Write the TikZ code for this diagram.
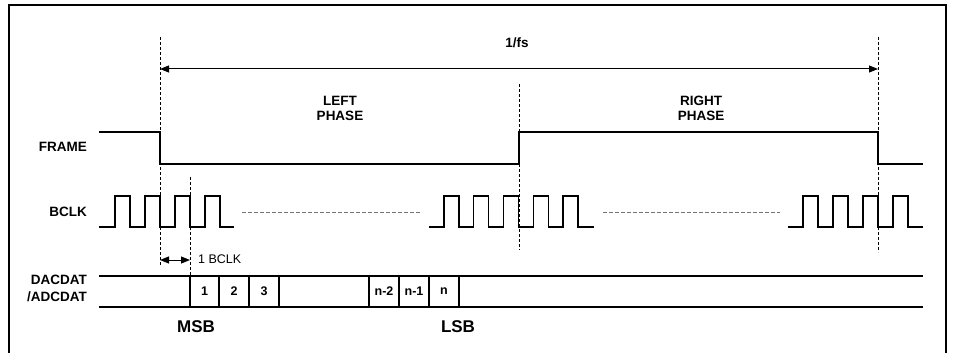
\documentclass[tikz,border=0pt]{standalone}
\usepackage{fontspec}
\setmainfont{Liberation Sans}
\usetikzlibrary{arrows.meta}
\begin{document}
\begin{tikzpicture}[x=1pt,y=-1pt,
  wave/.style={line width=1.2pt, line join=miter},
  guide/.style={line width=0.8pt, dash pattern=on 3pt off 2pt},
  gapline/.style={line width=0.9pt, black!55, dash pattern=on 4pt off 2pt},
  dimarrow/.style={line width=1pt, {Triangle[length=9pt,width=7pt]}-{Triangle[length=9pt,width=7pt]}},
  lbl/.style={font=\fontsize{13.5}{15}\selectfont\bfseries, inner sep=0pt},
  phase/.style={font=\fontsize{13.5}{15}\selectfont\bfseries, inner sep=0pt},
  bit/.style={font=\fontsize{12.5}{14}\selectfont\bfseries, inner sep=0pt},
  big/.style={font=\fontsize{17}{19}\selectfont\bfseries, inner sep=0pt},
  small/.style={font=\fontsize{12.5}{14}\selectfont, inner sep=0pt}]
\useasboundingbox (0,0) rectangle (953,353);
% border
\draw[line width=1.3pt] (9,353) -- (9,5) -- (946,5) -- (946,353);
% guides
\coordinate (g1t) at (160,37); \coordinate (g1b) at (160,265);
\coordinate (g2t) at (190,177); \coordinate (g2b) at (190,276);
\coordinate (g3t) at (519,84);  \coordinate (g3b) at (519,250);
\coordinate (g4t) at (878,37);  \coordinate (g4b) at (878,252);
\draw[guide] (g1t) -- (g1b);
\draw[guide] (g2t) -- (g2b);
\draw[guide] (g3t) -- (g3b);
\draw[guide] (g4t) -- (g4b);
% 1/fs
\coordinate (fsL) at (160,69); \coordinate (fsR) at (878,69);
\draw[dimarrow] (fsL) -- (fsR);
\node[lbl] (fs) at (517,43) {1/fs};
\node[phase] (left1) at (340,101) {LEFT};
\node[phase] (left2) at (340,116) {PHASE};
\node[phase] (right1) at (701,101) {RIGHT};
\node[phase] (right2) at (701,116) {PHASE};
% labels
\node[lbl, anchor=east] (frame) at (87,147) {FRAME};
\node[lbl, anchor=east] (bclk) at (87,212) {BCLK};
\node[lbl, anchor=east] (dac) at (87,280) {DACDAT};
\node[lbl, anchor=east] (adc) at (87,297) {/ADCDAT};
% FRAME
\draw[wave] (99,132) -- (160,132) -- (160,164) -- (519,164) -- (519,132) -- (878,132) -- (878,164) -- (923,164);
% BCLK
\draw[wave] (99,227) foreach \k in {0,...,3} { -- (115+30*\k,227) -- (115+30*\k,196) -- (130+30*\k,196) -- (130+30*\k,227) } -- (234,227);
\draw[wave] (429,227) foreach \k in {0,...,4} { -- (444+29.75*\k,227) -- (444+29.75*\k,196) -- (459+29.75*\k,196) -- (459+29.75*\k,227) } -- (594,227);
\draw[wave] (788,227) foreach \k in {0,...,3} { -- (803+30*\k,227) -- (803+30*\k,196) -- (818+30*\k,196) -- (818+30*\k,227) } -- (923,227);
\draw[gapline] (242,212) -- (422,212);
\draw[gapline] (603,212) -- (780,212);
% 1 BCLK
\coordinate (bL) at (160,260); \coordinate (bR) at (190,260);
\draw[dimarrow] (bL) -- (bR);
\node[small, anchor=west] (onebclk) at (198,259) {1 BCLK};
% DACDAT
\draw[wave] (99,276) -- (923,276);
\draw[wave] (99,307) -- (923,307);
\foreach \x in {190,219,249,279,369,399,429,459} { \draw[wave] (\x,276) -- (\x,307); }
\node[bit] (b1) at (204.5,291.5) {1};
\node[bit] (b2) at (234,291.5) {2};
\node[bit] (b3) at (264,291.5) {3};
\node[bit] (bn2) at (384,291.5) {n-2};
\node[bit] (bn1) at (414,291.5) {n-1};
\node[bit] (bn) at (444,291.5) {n};
\node[big] (msb) at (196,327) {MSB};
\node[big] (lsb) at (458,327) {LSB};
\end{tikzpicture}
\end{document}
